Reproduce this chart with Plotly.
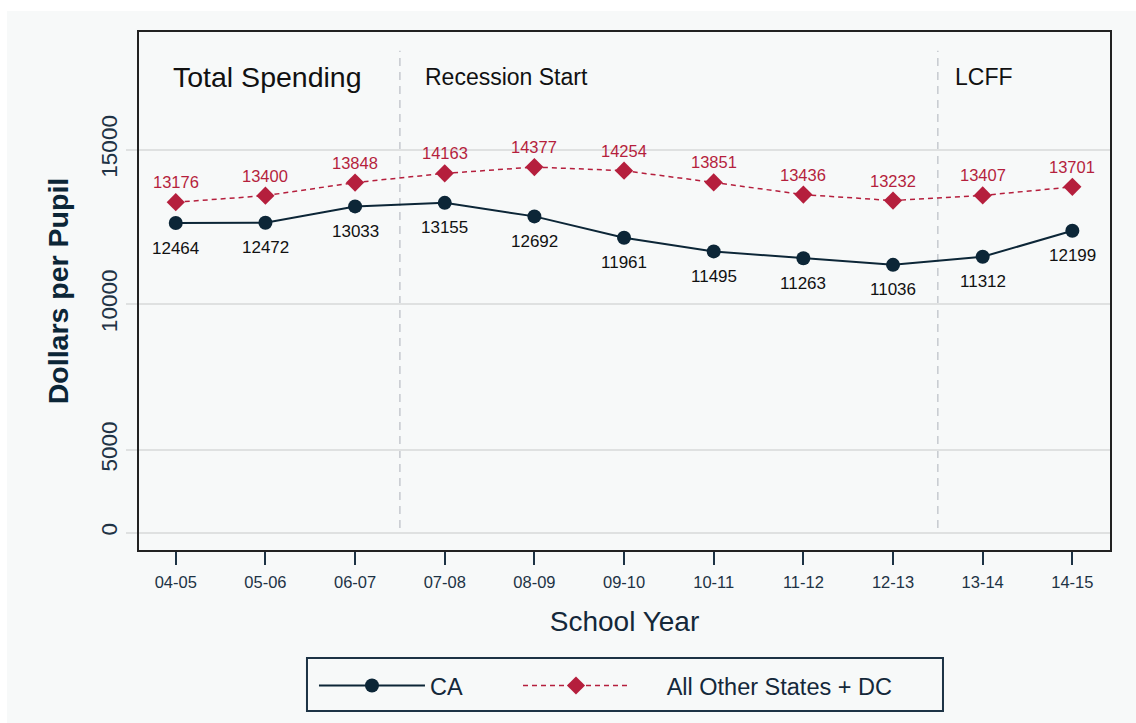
import plotly.graph_objects as go

# ---- data ----
years = ["04-05", "05-06", "06-07", "07-08", "08-09", "09-10",
         "10-11", "11-12", "12-13", "13-14", "14-15"]
ca_values = [12464, 12472, 13033, 13155, 12692, 11961, 11495, 11263, 11036, 11312, 12199]
other_values = [13176, 13400, 13848, 14163, 14377, 14254, 13851, 13436, 13232, 13407, 13701]
ytick_text = ["0", "5000", "10000", "15000"]
ytick_pos = [1880, 4710, 9690, 14970]
event_labels = ["Total Spending", "Recession Start", "LCFF"]
event_label_x = [-0.055, 2.76, 8.67]
event_label_size = [28.5, 23, 23]
event_lines_x = [2.5, 8.5]

NAVY = "#0c2637"
RED = "#b51f3d"
BG = "#f7f9f9"
FONT = "Liberation Sans, Arial, sans-serif"
NBSP = "\u00a0"

fig = go.Figure()
fig.add_trace(go.Scatter(
    x=years, y=ca_values, name="CA", legend="legend",
    mode="lines+markers",
    line=dict(color=NAVY, width=2),
    marker=dict(symbol="circle", size=14, color=NAVY),
))
fig.add_trace(go.Scatter(
    x=years, y=other_values, name=NBSP * 5 + "All Other States + DC", legend="legend2",
    mode="lines+markers",
    line=dict(color=RED, width=1.5, dash="5px,4px"),
    marker=dict(symbol="diamond", size=14, color=RED),
))

shapes = [dict(type="rect", xref="paper", yref="paper",
               x0=-0.1359, x1=1.03, y0=-0.34, y1=1.0405,
               fillcolor=BG, line=dict(width=0), layer="below"),
          dict(type="rect", xref="paper", yref="paper",
               x0=0.1730, x1=0.8280, y0=-0.3108, y1=-0.2085,
               fillcolor="rgba(0,0,0,0)", line=dict(color="#1d3345", width=2), layer="above")]
for xv in event_lines_x:
    shapes.append(dict(type="line", xref="x", yref="y", x0=xv, x1=xv,
                       y0=2041, y1=18354,
                       line=dict(color="#b9bdc4", width=1.2, dash="8px,6px"),
                       layer="below"))

annotations = []
for lab, xv, sz in zip(event_labels, event_label_x, event_label_size):
    annotations.append(dict(x=xv, y=17440, xref="x", yref="y", text=lab,
                            showarrow=False, xanchor="left", yanchor="middle",
                            font=dict(size=sz, color="#111111", family=FONT)))
for xv, v in zip(years, ca_values):
    annotations.append(dict(x=xv, y=v, xref="x", yref="y", text=str(v),
                            showarrow=False, xanchor="center", yanchor="middle", yshift=-25,
                            font=dict(size=17, color="#111111", family=FONT)))
for xv, v in zip(years, other_values):
    annotations.append(dict(x=xv, y=v, xref="x", yref="y", text=str(v),
                            showarrow=False, xanchor="center", yanchor="middle", yshift=20,
                            font=dict(size=16.5, color=RED, family=FONT)))

legend_common = dict(orientation="h", xanchor="left", yanchor="top",
                     bgcolor="rgba(0,0,0,0)", borderwidth=0,
                     font=dict(size=23.5, color="#14283a", family=FONT),
                     itemwidth=106)

fig.update_layout(
    width=1136, height=723,
    margin=dict(l=139, r=26, t=32, b=173),
    paper_bgcolor="white", plot_bgcolor=BG,
    font=dict(family=FONT, color=NAVY),
    shapes=shapes, annotations=annotations,
    showlegend=True,
    legend=dict(x=0.1802, y=-0.2195, **legend_common),
    legend2=dict(x=0.3903, y=-0.2195, **legend_common),
)
fig.update_xaxes(
    type="category", range=[-0.41, 10.42],
    showline=True, mirror=True, linecolor="#222222", linewidth=2,
    ticks="outside", ticklen=13, tickwidth=2, tickcolor="#1d3345",
    tickfont=dict(size=16.5, color="#1d3345", family=FONT),
    ticklabelstandoff=3,
    showgrid=False, zeroline=False,
    title=dict(text="School Year", font=dict(size=28, color="#14283a", family=FONT), standoff=22),
)
fig.update_yaxes(
    range=[1289, 18994],
    tickmode="array", tickvals=ytick_pos, ticktext=ytick_text, tickangle=-90,
    showline=True, mirror=True, linecolor="#222222", linewidth=2,
    ticks="outside", ticklen=11, tickwidth=1.5, tickcolor="#dfe1e1",
    tickfont=dict(size=22.5, color="#1f3345", family=FONT),
    showgrid=True, gridcolor="#dfe1e1", gridwidth=1.5, zeroline=False,
    title=dict(text="<b>Dollars per Pupil</b>", font=dict(size=28.5, color=NAVY, family=FONT), standoff=20),
)

fig.write_html("out.html", config={"displayModeBar": False},
               post_script="document.body.style.margin='0';document.body.style.padding='0';")
